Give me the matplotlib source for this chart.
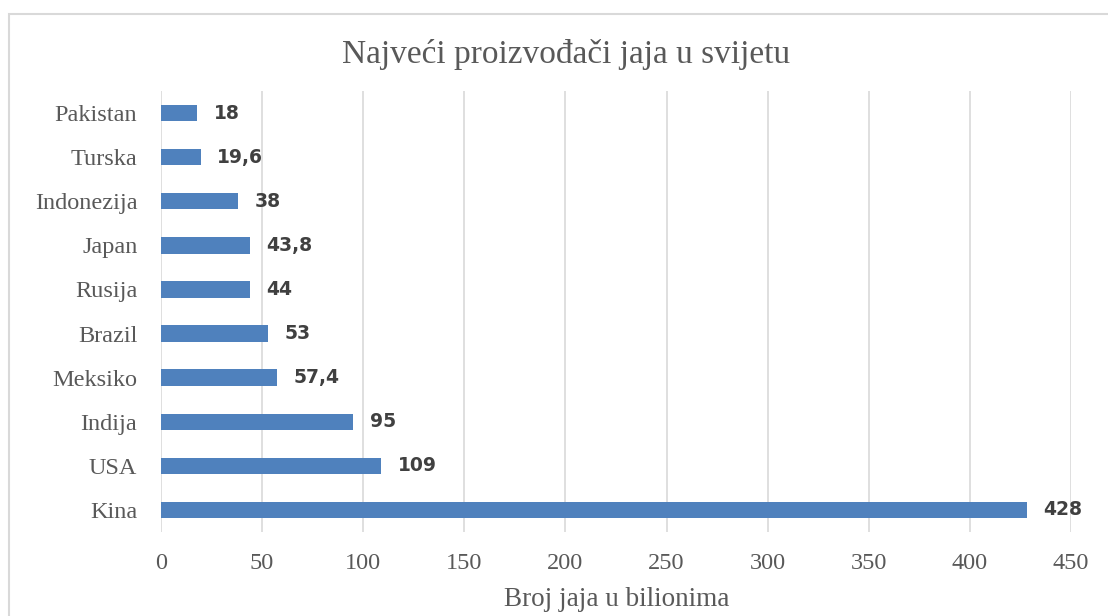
import matplotlib.pyplot as plt
from matplotlib.patches import Rectangle

countries = ["Kina", "USA", "Indija", "Meksiko", "Brazil", "Rusija",
             "Japan", "Indonezija", "Turska", "Pakistan"]
eggs = [428, 109, 95, 57.4, 53, 44, 43.8, 38, 19.6, 18]
labels = ["428", "109", "95", "57,4", "53", "44", "43,8", "38", "19,6", "18"]
xticks = [0, 50, 100, 150, 200, 250, 300, 350, 400, 450]

grey = "#595959"
serif = "Liberation Serif"

fig = plt.figure(figsize=(11.08, 6.16), dpi=100)
# light frame around the chart area, cut off at right and bottom
fig.patches.append(Rectangle((9 / 1108, -0.1), 1.2, 1.1 - 14 / 616,
                             transform=fig.transFigure, fill=False,
                             edgecolor="#D9D9D9", linewidth=1.5))

ax = fig.add_axes([161 / 1108, 1 - 532 / 616, 910 / 1108, 441 / 616])
ypos = range(len(countries))
ax.barh(ypos, eggs, height=0.37, color="#4F81BD", zorder=2)

for y, v, t in zip(ypos, eggs, labels):
    ax.annotate(t, (v, y), xytext=(12, 0), textcoords="offset points",
                ha="left", va="center", fontsize=13.5, fontweight="bold",
                color="#404040", family="DejaVu Sans")

ax.set_xlim(0, 450)
ax.set_ylim(-0.5, len(countries) - 0.5)
ax.set_xticks(xticks)
ax.set_xticklabels([str(x) for x in xticks], family=serif, fontsize=17.5, color=grey)
ax.set_yticks(list(ypos))
ax.set_yticklabels(countries, family=serif, fontsize=17.5, color=grey)
ax.tick_params(length=0)
ax.tick_params(axis="y", pad=17)
ax.tick_params(axis="x", pad=15)
ax.grid(axis="x", color="#D9D9D9", linewidth=1.2, zorder=0)
for s in ax.spines.values():
    s.set_visible(False)

fig.text(566 / 1108, 1 - 55 / 616, "Najveći proizvođači jaja u svijetu",
         ha="center", va="center", family=serif, fontsize=24, color=grey)
fig.text(617 / 1108, 1 - 600 / 616, "Broj jaja u bilionima",
         ha="center", va="center", family=serif, fontsize=19.5, color=grey)

fig.savefig("out.png", dpi=100)
